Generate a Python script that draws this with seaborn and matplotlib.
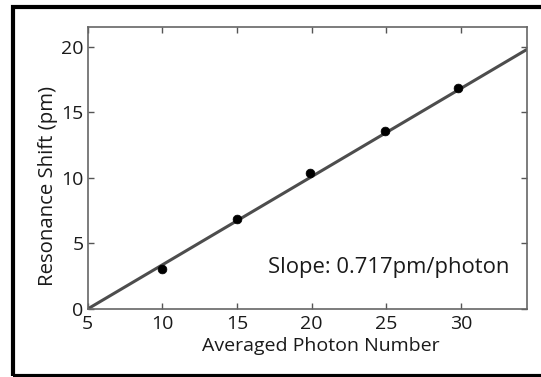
import matplotlib
matplotlib.use("Agg")
import matplotlib.pyplot as plt
import seaborn as sns
import pandas as pd
from matplotlib.patches import Rectangle

# measured points
photon_number = [10, 15, 19.9, 24.9, 29.8]
resonance_shift = [3.05, 6.87, 10.4, 13.55, 16.9]

# fitted line end points
fit_x = [5, 34.4]
fit_y = [0, 19.8]

x_ticks = [5, 10, 15, 20, 25, 30]
y_ticks = [0, 5, 10, 15, 20]

sns.set_theme(style="white")
plt.rcParams['font.family'] = ['Open Sans', 'DejaVu Sans']

fig = plt.figure(figsize=(5.41, 3.77), dpi=100)
ax = fig.add_axes([0.162, 0.1804, 0.8115, 0.7472])

df_pts = pd.DataFrame({'x': photon_number, 'y': resonance_shift})
df_fit = pd.DataFrame({'x': fit_x, 'y': fit_y})

sns.lineplot(data=df_fit, x='x', y='y', ax=ax, color='#4d4d4d', linewidth=2.2)
sns.scatterplot(data=df_pts, x='x', y='y', ax=ax, color='black', s=40,
                edgecolor='black', zorder=3)

ax.set_xlim(5, 34.4)
ax.set_ylim(0, 21.5)
ax.set_xticks(x_ticks)
ax.set_yticks(y_ticks)
ax.tick_params(direction='in', length=4, width=1, color='#555555',
               top=True, right=True, bottom=True, left=True,
               labelsize=14, pad=3, labelcolor='#1a1a1a')
ax.tick_params(axis='x', pad=4)
for sp in ax.spines.values():
    sp.set_color('#666666')
    sp.set_linewidth(1.2)

ax.set_xlabel('Averaged Photon Number', fontsize=14, color='#1a1a1a', labelpad=3)
ax.xaxis.label.set_x(0.532)
ax.set_ylabel('Resonance Shift (pm)', fontsize=14.7, color='#1a1a1a', labelpad=2)
ax.yaxis.label.set_y(0.437)

ax.text(0.41, 0.149, 'Slope: 0.717pm/photon', transform=ax.transAxes,
        fontsize=15.8, color='#1a1a1a', ha='left', va='center')

# black frame around the figure (left, top, bottom)
fig.patches.append(Rectangle((12.5 / 541, 1.5 / 377), 1.2, 368.5 / 377,
                             transform=fig.transFigure, fill=False,
                             edgecolor='black', linewidth=3))

fig.savefig('out.png', dpi=100)
